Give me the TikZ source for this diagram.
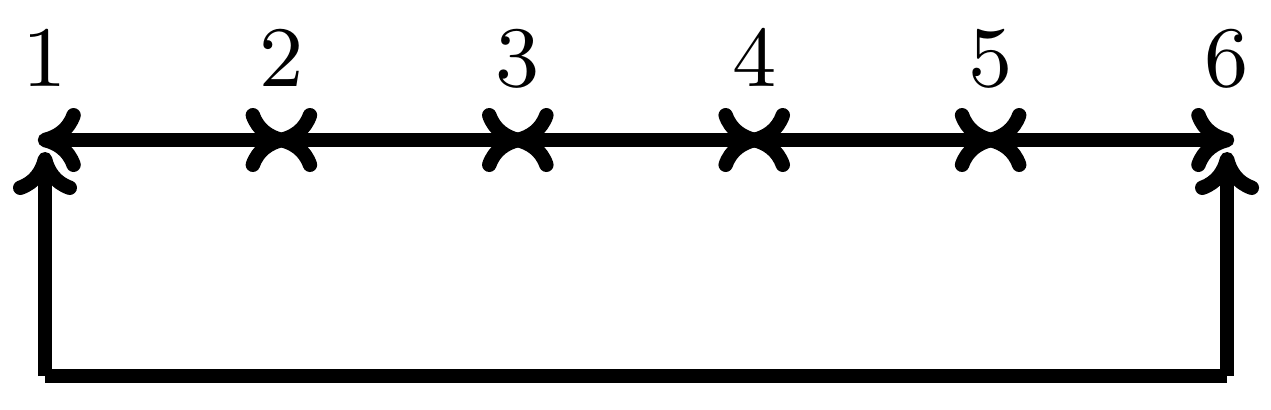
\documentclass[tikz,border=0pt]{standalone}
\usetikzlibrary{arrows.meta}
\begin{document}
\begin{tikzpicture}[x=0.1pt,y=-0.1pt,
  tipa/.tip={Computer Modern Rightarrow[length=4.3pt,width=6.4pt]},
  link/.style={line width=1.45pt,tipa-tipa,shorten >=-0.72pt,shorten <=-0.72pt},
  single/.style={line width=1.45pt,-tipa},
  plain/.style={line width=1.45pt},
  lab/.style={anchor=base,inner sep=0pt,font=\fontsize{8.6pt}{10pt}\selectfont}]
\useasboundingbox (0,0) rectangle (1271,409);
\foreach \i/\x in {1/45,2/281.4,3/517.8,4/754.2,5/990.6,6/1227}{
  \coordinate (p\i) at (\x,140);
  \node[lab] (l\i) at (\x,86) {\i};
}
\coordinate (v1) at (45,152);
\coordinate (v6) at (1227,152);
\coordinate (b1) at (45,376);
\coordinate (b6) at (1227,376);
\draw[link] (p1) -- (p2);
\draw[link] (p2) -- (p3);
\draw[link] (p3) -- (p4);
\draw[link] (p4) -- (p5);
\draw[link] (p5) -- (p6);
\draw[plain] (b1) -- (b6);
\draw[single] (b1) -- (v1);
\draw[single] (b6) -- (v6);
\end{tikzpicture}
\end{document}
